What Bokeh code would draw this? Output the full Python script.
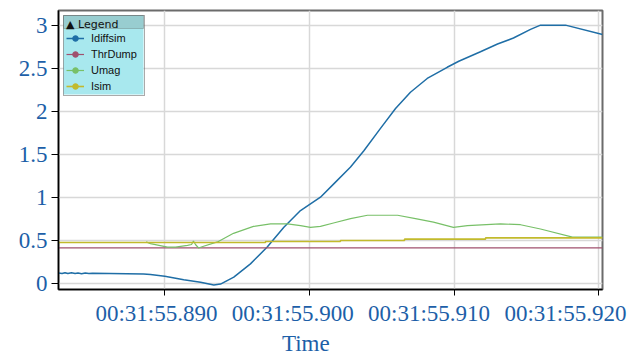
from bokeh.plotting import figure
from bokeh.models import (Range1d, FixedTicker, DatetimeTickFormatter, CustomJSTickFormatter,
                          Legend, LegendItem, BoxAnnotation, ColumnDataSource, DatetimeAxis,
                          Title)
from bokeh.embed import file_html
from bokeh.resources import INLINE

# time origin 00:31:55.880 expressed in ms since midnight; series times are ms offsets from it
BASE_MS = (31 * 60 + 55.880) * 1000.0

series_names = ["Idiffsim", "ThrDump", "Umag", "Isim"]
series_colors = ["#1f6ea6", "#a0506e", "#78c068", "#c2ba2c"]

idiff_t = [2.65, 2.9, 3.1, 3.3, 3.55, 3.8, 4.0, 4.25, 4.5, 4.75, 5.0, 8.53, 9.01, 10.0,
           11.31, 12.47, 13.39, 13.85, 14.77, 15.92, 17.08, 18.23, 19.38, 20.76, 21.68,
           22.84, 23.76, 24.91, 25.95, 26.98, 28.14, 29.52, 30.32, 31.82, 33.0, 34.10,
           35.28, 35.97, 37.70, 40.26]
idiff_v = [0.12, 0.113, 0.122, 0.112, 0.121, 0.113, 0.12, 0.111, 0.119, 0.114, 0.116, 0.108,
           0.10, 0.08, 0.04, 0.012, -0.02, -0.01, 0.07, 0.225, 0.42, 0.65, 0.845, 1.0, 1.155,
           1.35, 1.54, 1.80, 2.03, 2.22, 2.38, 2.51, 2.58, 2.69, 2.78, 2.85, 2.95, 3.0, 3.0,
           2.89]

thr_t = [2.65, 40.26]
thr_v = [0.41, 0.41]

umag_t = [8.71, 9.01, 10.19, 10.74, 11.57, 11.85, 11.98, 12.12, 12.33, 12.68, 13.64, 14.75,
          16.13, 17.31, 18.48, 19.38, 20.07, 20.76, 21.66, 22.84, 24.01, 26.09, 27.33, 28.57,
          29.95, 30.92, 33.20, 34.59, 35.97, 38.18, 40.26]
umag_v = [0.48, 0.46, 0.42, 0.42, 0.44, 0.45, 0.49, 0.45, 0.41, 0.43, 0.48, 0.58, 0.66, 0.69,
          0.69, 0.67, 0.65, 0.66, 0.70, 0.75, 0.79, 0.79, 0.75, 0.71, 0.65, 0.67, 0.69, 0.68,
          0.63, 0.535, 0.535]

isim_t = [2.65, 16.96, 22.14, 26.57, 32.17, 40.26]
isim_v = [0.473, 0.485, 0.496, 0.512, 0.527, 0.527]

x_tick_offsets = [10, 20, 30, 40]
y_ticks = [0, 0.5, 1, 1.5, 2, 2.5, 3]
x_label = "Time"
legend_title = "\u25B2 Legend"

# plotted time window, and the slightly compressed window on which the labels sit
main_lo, main_hi = 2.652, 40.256
lbl_lo, lbl_hi = 2.81, 42.72


def ms(ts):
    return [BASE_MS + t for t in ts]


def main_to_lbl(ts):
    k = (lbl_hi - lbl_lo) / (main_hi - main_lo)
    return [lbl_lo + (t - main_lo) * k for t in ts]


p = figure(width=632, height=355, output_backend="svg", toolbar_location=None,
           x_axis_type="datetime",
           x_range=Range1d(BASE_MS + main_lo, BASE_MS + main_hi),
           y_range=Range1d(-0.073, 3.17),
           min_border_left=58, min_border_right=30, min_border_top=10, min_border_bottom=66,
           background_fill_color="white", border_fill_color="white")
p.extra_x_ranges = {"lbl": Range1d(BASE_MS + lbl_lo, BASE_MS + lbl_hi)}

p.outline_line_color = "#6b6b6b"
p.outline_line_width = 2

p.xgrid.grid_line_color = "#d8d8d8"
p.ygrid.grid_line_color = "#d8d8d8"
p.xgrid.grid_line_width = 1.5
p.ygrid.grid_line_width = 1.5

tick_color = "#1d5fa8"
serif = "Liberation Serif"
fsize = "23px"
fmt = "%H:%M:%S.%3N"
dt_fmt = DatetimeTickFormatter(milliseconds=fmt, seconds=fmt, minsec=fmt, minutes=fmt,
                               hourmin=fmt, hours=fmt, days=fmt, months=fmt, years=fmt)

# main x axis only feeds the vertical grid lines
xa = p.xaxis[0]
xa.ticker = FixedTicker(ticks=ms(x_tick_offsets))
xa.visible = False

ya = p.yaxis[0]
ya.ticker = FixedTicker(ticks=y_ticks)
ya.formatter = CustomJSTickFormatter(code="return String(tick);")
ya.major_label_text_font = serif
ya.major_label_text_font_size = fsize
ya.major_label_text_color = tick_color
ya.axis_line_color = "black"
ya.axis_line_width = 1.5
ya.major_tick_line_color = "black"
ya.major_tick_in = 0
ya.major_tick_out = 7
ya.minor_tick_line_color = None
ya.major_label_standoff = 4

# visible time axis: labels on the compressed scale, tick marks (as minor ticks) at true times
lbl_axis = DatetimeAxis(
    x_range_name="lbl",
    ticker=FixedTicker(ticks=ms(x_tick_offsets), minor_ticks=ms(main_to_lbl(x_tick_offsets))),
    formatter=dt_fmt, axis_line_color="black", axis_line_width=1.5,
    major_tick_line_color=None, major_tick_in=0, major_tick_out=0,
    minor_tick_line_color="black", minor_tick_line_width=1, minor_tick_in=0, minor_tick_out=6,
    major_label_standoff=5, major_label_text_font=serif,
    major_label_text_font_size=fsize, major_label_text_color=tick_color)
p.add_layout(lbl_axis, "below")

p.add_layout(Title(text=x_label, align="left", offset=223.4, standoff=0,
                   text_font=serif, text_font_size=fsize, text_font_style="normal",
                   text_color=tick_color), "below")

srcs = [
    ColumnDataSource(dict(x=ms(idiff_t), y=idiff_v)),
    ColumnDataSource(dict(x=ms(thr_t), y=thr_v)),
    ColumnDataSource(dict(x=ms(umag_t), y=umag_v)),
    ColumnDataSource(dict(x=ms(isim_t), y=isim_v)),
]

items = []
for name, col, src in zip(series_names, series_colors, srcs):
    if name == "Isim":
        lr = p.step("x", "y", source=src, mode="after", line_color=col, line_width=1.6)
    elif name == "Idiffsim":
        lr = p.line("x", "y", source=src, line_color=col, line_width=1.5)
    else:
        lr = p.line("x", "y", source=src, line_color=col, line_width=1.2)
    # marker renderer used only for the legend sample (line with a dot)
    mr = p.scatter("x", "y", source=src, size=4, fill_color=col, line_color=col,
                   visible=False)
    items.append(LegendItem(label=name, renderers=[lr, mr]))

# legend panel backgrounds (body and header strip), in screen px relative to the frame
body = BoxAnnotation(left=5, right=85, top=274, bottom=195,
                     left_units="screen", right_units="screen", top_units="screen",
                     bottom_units="screen", fill_color="#a8e8ee", fill_alpha=1,
                     line_color=None, level="annotation")
header = BoxAnnotation(left=5, right=85, top=274, bottom=261,
                       left_units="screen", right_units="screen", top_units="screen",
                       bottom_units="screen", fill_color="#98cdd0", fill_alpha=1,
                       line_color="#555555", line_width=1, level="annotation")
p.add_layout(body)
p.add_layout(header)

legend = Legend(items=items, location="top_left", margin=5, padding=2, spacing=2,
                glyph_height=14, glyph_width=18, label_height=14, label_width=51,
                label_standoff=7, label_text_font="Liberation Sans",
                label_text_font_size="11px", label_text_color="#111111",
                title=legend_title, title_text_font="DejaVu Sans",
                title_text_font_size="11px", title_text_font_style="normal",
                title_text_color="#111111", title_standoff=0,
                background_fill_alpha=0, border_line_color="#555555", border_line_width=1,
                level="overlay")
p.add_layout(legend)

open("out.html", "w").write(file_html(p, INLINE))
